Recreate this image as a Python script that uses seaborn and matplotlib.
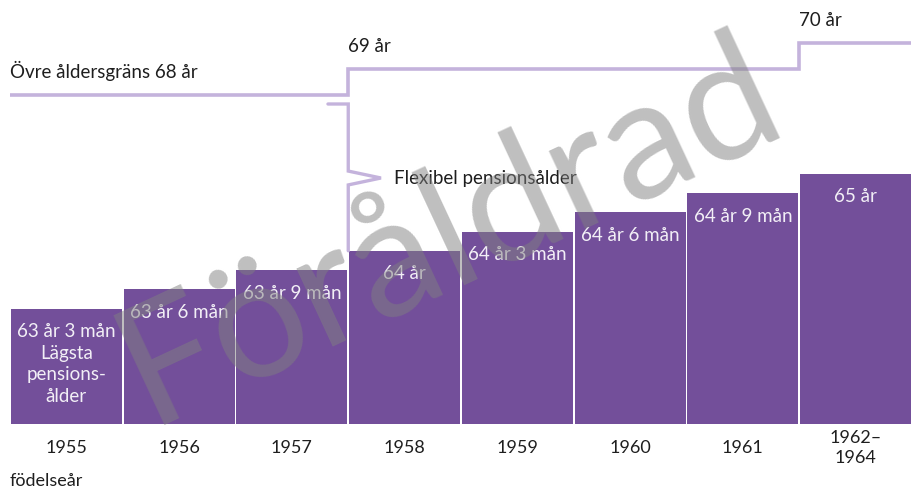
import numpy as np
import pandas as pd
import matplotlib
matplotlib.use("Agg")
import matplotlib.pyplot as plt
import seaborn as sns

# Data
years = ["1955", "1956", "1957", "1958", "1959", "1960", "1961", "1962–\n1964"]
lowest_age = [63.25, 63.5, 63.75, 64.0, 64.25, 64.5, 64.75, 65.0]
bar_labels = ["63 år 3 mån\nLägsta\npensions-\nålder", "63 år 6 mån", "63 år 9 mån",
              "64 år", "64 år 3 mån", "64 år 6 mån", "64 år 9 mån", "65 år"]
upper_age = [68, 68, 68, 69, 69, 69, 69, 70]
upper_labels = {0: "Övre åldersgräns 68 år", 3: "69 år", 7: "70 år"}

base = 61.75
purple = "#734f9a"
lavender = "#c4b3dc"
dark = "#1e1e1e"

sns.set_theme(style="white")
plt.rcParams["font.family"] = ["Lato", "DejaVu Sans"]

df = pd.DataFrame({"år": years, "ålder": np.array(lowest_age) - base})

fig = plt.figure(figsize=(9.12, 4.88), dpi=100)
ax = fig.add_axes([10 / 912, 0, 902 / 912, 1])

sns.barplot(data=df, x="år", y="ålder", color=purple, saturation=1,
            width=0.985, edgecolor="none", ax=ax)
ax.set_xlim(-0.5, 7.5)
ax.set_ylim(-64 / 77, 424 / 77)
ax.set_axis_off()

# Labels inside bars
for i, (v, lab) in enumerate(zip(lowest_age, bar_labels)):
    ax.text(i, v - base - 0.19, lab, ha="center", va="top", color="#f2eff6",
            fontsize=13.5, linespacing=1.32)

# Year labels
for i, y in enumerate(years):
    ax.text(i, -0.31, y, ha="center", va="center", color=dark, fontsize=13,
            linespacing=1.3)
ax.text(-0.5, -0.74, "födelseår", ha="left", va="center", color=dark, fontsize=13)

# Upper age limit (own schematic scale)
ax2 = ax.twinx()
ax2.set_ylim(68 - 393 / 26, 68 + 95 / 26)
ax2.set_axis_off()
edges = np.arange(-0.5, 8.5, 1.0)
ax2.step(edges, upper_age + [upper_age[-1]], where="post", color=lavender,
         lw=2.6, solid_joinstyle="miter")
for i, txt in upper_labels.items():
    x = -0.5 if i == 0 else i - 0.5
    ax2.text(x, upper_age[i] + 0.52, txt, ha="left", va="bottom",
             color=dark, fontsize=13.5)

# Bracket for flexible pension age
top = (424 - 104) / 77
bottom = lowest_age[3] - base
mid = (424 - 178) / 77
bx = 2.5
ax.plot([bx - 0.18, bx, bx, bx + 0.29, bx, bx],
        [top, top, mid + 0.09, mid, mid - 0.09, bottom],
        color=lavender, lw=2.4, solid_joinstyle="miter", zorder=3)
ax.text(bx + 0.41, mid, "Flexibel pensionsålder", ha="left", va="center",
        color=dark, fontsize=13.5)

# Watermark
fig.text(0.515, 0.435, "Föråldrad", rotation=25, fontsize=121, color="#808080",
         alpha=0.5, ha="center", va="baseline", rotation_mode="anchor")

fig.savefig("out.png", dpi=100)
